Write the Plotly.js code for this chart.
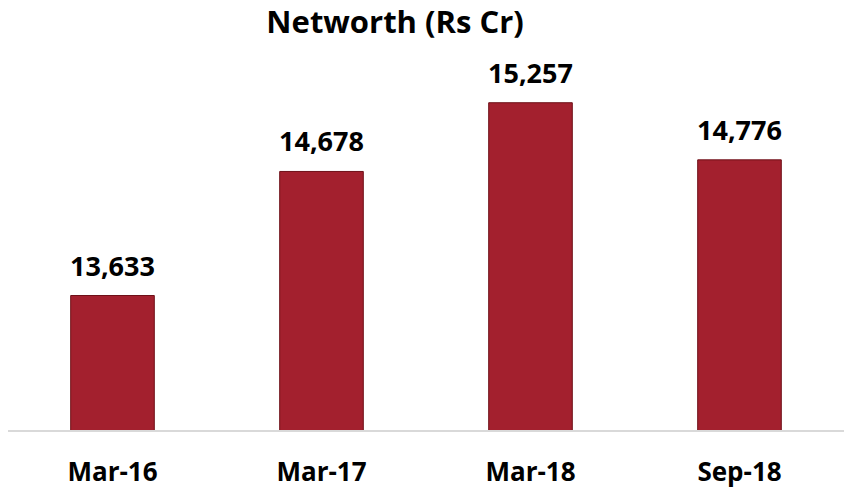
<!DOCTYPE html>
<html><head><meta charset="utf-8">
<script src="https://cdn.plot.ly/plotly-3.0.1.min.js"></script>
<style>html,body{margin:0;padding:0;background:#fff;}#chart{width:846px;height:495px;}</style>
</head><body><div id="chart"></div>
<script>
const categories = ['Mar-16', 'Mar-17', 'Mar-18', 'Sep-18'];
const networth = [13633, 14678, 15257, 14776];
const chartTitle = 'Networth (Rs Cr)';

const fontFam = 'Open Sans, Noto Sans, Liberation Sans, sans-serif';

const trace = {
  type: 'bar',
  x: categories,
  y: networth,
  marker: { color: '#A3202E', line: { color: '#6E1018', width: 1 } },
  hoverinfo: 'x+y'
};

const annotations = categories.map((c, i) => ({
  x: c, y: networth[i], xref: 'x', yref: 'y',
  text: networth[i].toLocaleString('en-US'),
  showarrow: false, yanchor: 'bottom', yshift: 10,
  font: { family: fontFam, size: 27, color: '#000', weight: 'bold' }
}));

const layout = {
  width: 846, height: 495,
  margin: { l: 8, r: 2, t: 60, b: 65 },
  paper_bgcolor: '#fff', plot_bgcolor: '#fff',
  title: { text: '<b>' + chartTitle + '</b>', x: 0.467, xanchor: 'center', y: 0.955, yanchor: 'middle',
           font: { family: fontFam, size: 31, color: '#000' } },
  bargap: 0.6,
  showlegend: false,
  xaxis: {
    showgrid: false, zeroline: false, showline: true, linecolor: '#D9D9D9', linewidth: 1.5,
    ticks: '', tickfont: { family: fontFam, size: 26, color: '#000', weight: 'bold' },
    ticklabelstandoff: 18
  },
  yaxis: {
    range: [12500, 15617], showgrid: false, zeroline: false, showline: false,
    showticklabels: false, ticks: ''
  },
  annotations: annotations
};

Plotly.newPlot('chart', [trace], layout, { displayModeBar: false, staticPlot: true });
</script></body></html>
